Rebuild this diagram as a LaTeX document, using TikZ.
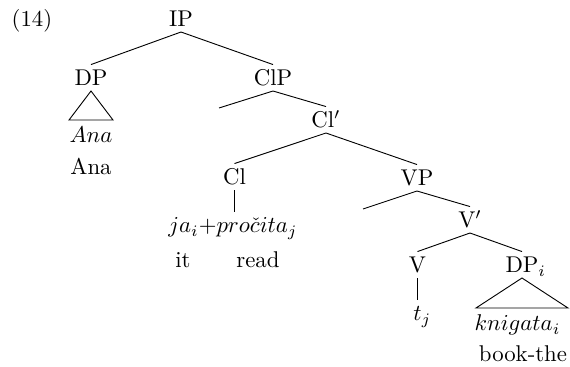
\documentclass[tikz,border=0pt]{standalone}
\begin{document}
\begin{tikzpicture}[x=0.4386pt,y=-0.4386pt,
  lab/.style={anchor=base,inner xsep=0pt,inner ysep=0pt,text height=9.2pt,text depth=2pt},
  plain/.style={anchor=base,inner sep=0pt},
  br/.style={line width=0.4pt}]
\useasboundingbox (0,0) rectangle (570,367);
\node[plain] (ex) at (32,27) {(14)};
\node[lab] (IP) at (181,27) {IP};
\node[lab] (DP) at (91,86) {DP};
\node[lab] (ClP) at (273,86) {ClP};
\node[plain] (anait) at (91,143) {$Ana$};
\node[plain] (ana) at (91,175) {Ana};
\coordinate (e1) at (219,108);
\node[lab] (Clbar) at (326,128) {Cl$'$};
\node[lab] (Cl) at (234.5,185) {Cl};
\node[lab] (VP) at (417,186) {VP};
\node[lab] (ja) at (233,233) {$ja_i$+$pro\check{c}ita_j$};
\node[plain] (it) at (183,268) {it};
\node[plain] (read) at (258,268) {read};
\coordinate (e2) at (363,209);
\node[lab] (Vbar) at (470,228) {V$'$};
\node[lab] (V) at (417.5,273) {V};
\node[lab] (DPi) at (522,273) {DP\rlap{$_i$}};
\node[lab] (t) at (417.5,321) {$t\rlap{$_j$}$};
\node[plain] (kn) at (517.5,331) {$knigata_i$};
\node[plain] (book) at (523,362) {book-the};
\draw[br] (IP.south) -- (DP.north);
\draw[br] (IP.south) -- (ClP.north);
\draw[br] (DP.south) -- ++(-22,29) -- ++(44,0) -- cycle;
\draw[br] (ClP.south) -- (e1);
\draw[br] (ClP.south) -- (Clbar.north);
\draw[br] (Clbar.south) -- (Cl.north);
\draw[br] (Clbar.south) -- (VP.north);
\draw[br] (Cl.south) -- (Cl.south |- ja.north);
\draw[br] (VP.south) -- (e2);
\draw[br] (VP.south) -- (Vbar.north);
\draw[br] (Vbar.south) -- (V.north);
\draw[br] (Vbar.south) -- (DPi.north);
\draw[br] (V.south) -- (t.north);
\draw[br] (DPi.south) -- ++(-46,30) -- ++(92,0) -- cycle;
\end{tikzpicture}
\end{document}
